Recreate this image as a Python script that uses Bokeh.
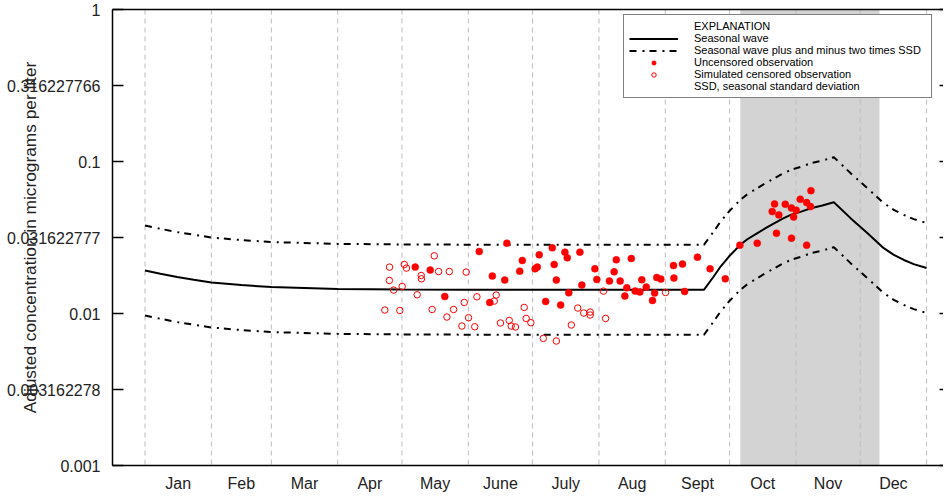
from bokeh.plotting import figure
from bokeh.models import (Range1d, FixedTicker, LinearAxis, LogAxis,
                          Legend, LegendItem, BoxAnnotation, Span)
from bokeh.embed import file_html
from bokeh.resources import INLINE

# ---------------- data (day of year / concentration) ----------------
month_start_day = [0, 31, 59, 90, 120, 151, 181, 212, 243, 273, 304, 334, 365]
month_mid_day = [15.5, 45, 74.5, 105, 135.5, 166, 196.5, 227.5, 258, 288.5, 319, 349.5]
month_labels = ["Jan", "Feb", "Mar", "Apr", "May", "June", "July", "Aug",
                "Sept", "Oct", "Nov", "Dec"]

y_tick_values = [0.001, 0.003162278, 0.01, 0.031622777, 0.1, 0.316227766, 1.0]
y_tick_labels = ["0.001", "0.003162278", "0.01", "0.031622777", "0.1",
                 "0.316227766", "1"]

band_start_day = 278
band_end_day = 343

wave_day = [0, 7.2, 15, 22.8, 31, 45, 59, 90, 120, 150, 200, 261, 265.6,
            268.8, 272.7, 278, 281.3, 286, 289.8, 294, 297.6, 301.5, 306.1,
            311, 316.3, 321.7, 329.5, 337.3, 345, 349.7, 354.4, 359, 365]
wave_conc = [0.0192, 0.01825, 0.01736, 0.01667, 0.0160, 0.01538, 0.01492,
             0.01452, 0.0144, 0.01435, 0.01432, 0.01432, 0.01752, 0.02037,
             0.0237, 0.0283, 0.0308, 0.0338, 0.0364, 0.0393, 0.0419, 0.0445,
             0.0466, 0.0493, 0.0513, 0.0540, 0.0424, 0.0338, 0.0269, 0.0243,
             0.0225, 0.02113, 0.0199]
upper_conc = [0.03796, 0.03608, 0.03432, 0.03296, 0.03163, 0.03041, 0.02950,
              0.02871, 0.02847, 0.02837, 0.02831, 0.02831, 0.03464, 0.04027,
              0.04685, 0.05595, 0.06089, 0.06682, 0.07196, 0.07770, 0.08284,
              0.08798, 0.09213, 0.09747, 0.1014, 0.1068, 0.08382, 0.06682,
              0.05318, 0.04804, 0.04448, 0.04177, 0.03934]
lower_conc = [0.009712, 0.009231, 0.008781, 0.008432, 0.008093, 0.007779,
              0.007547, 0.007345, 0.007284, 0.007258, 0.007243, 0.007243,
              0.008862, 0.010303, 0.011988, 0.014315, 0.015579, 0.017097,
              0.018412, 0.019879, 0.021194, 0.022509, 0.023571, 0.024937,
              0.025949, 0.027314, 0.021447, 0.017097, 0.013607, 0.012292,
              0.011381, 0.010688, 0.010066]

uncensored_day = [126.2, 133.2, 140.0, 156.1, 169.0, 176.2, 175.0, 162.2,
                  168.0, 161.0, 182.2, 183.2, 184.1, 190.2, 191.1, 192.1,
                  187.1, 194.1, 196.1, 197.2, 203.1, 204.0, 197.9, 210.1,
                  211.0, 216.9, 219.1, 220.1, 221.9, 225.0, 227.1, 228.9,
                  231.1, 224.1, 232.0, 234.1, 237.0, 238.0, 239.0, 240.9,
                  246.8, 247.0, 251.0, 252.0, 258.0, 263.9, 271.0, 277.8,
                  285.9, 294.0, 292.9, 296.0, 294.9, 299.0, 301.9, 302.9,
                  304.1, 301.9, 306.0, 309.0, 311.0, 310.8, 309.0]
uncensored_conc = [0.02019, 0.01930, 0.01294, 0.02557, 0.02903, 0.02231,
                   0.01900, 0.01762, 0.01659, 0.01182, 0.01968, 0.02019,
                   0.02432, 0.02704, 0.02101, 0.01659, 0.01200, 0.01137,
                   0.02533, 0.02324, 0.02533, 0.01538, 0.01369, 0.01968,
                   0.01674, 0.01634, 0.01880, 0.02254, 0.01634, 0.01476,
                   0.02299, 0.01404, 0.01384, 0.01302, 0.01667, 0.01492,
                   0.01218, 0.01363, 0.01725, 0.01684, 0.02069, 0.01709,
                   0.02113, 0.01396, 0.02349, 0.01968, 0.01691, 0.02816,
                   0.02903, 0.05260, 0.04682, 0.04454, 0.03377, 0.05236,
                   0.04950, 0.04321, 0.04782, 0.03131, 0.05648, 0.05365,
                   0.06432, 0.05049, 0.02816]

censored_day = [114.2, 114.1, 112.0, 116.1, 119.0, 120.1, 121.1, 122.1,
                127.1, 129.0, 129.1, 135.1, 134.1, 137.1, 142.1, 141.0,
                144.1, 149.1, 150.0, 151.1, 148.0, 154.0, 155.0, 163.1,
                164.0, 166.0, 170.1, 171.0, 173.0, 177.1, 178.0, 180.2,
                186.0, 192.1, 199.1, 202.1, 204.9, 207.9, 207.9, 214.1,
                215.1, 243.1]
censored_conc = [0.02019, 0.01649, 0.01054, 0.01426, 0.01047, 0.01506,
                 0.02101, 0.01989, 0.01328, 0.01778, 0.01691, 0.02395,
                 0.01063, 0.01889, 0.01889, 0.00948, 0.01063, 0.01182,
                 0.01872, 0.00938, 0.00827, 0.00818, 0.01288, 0.01207,
                 0.01322, 0.00866, 0.00900, 0.00827, 0.00815, 0.01096,
                 0.00928, 0.00870, 0.00686, 0.00659, 0.00840, 0.01086,
                 0.01007, 0.01022, 0.00977, 0.01404, 0.00928, 0.01375]

FONT = "Liberation Sans"
TEXT = "#222222"

p = figure(width=943, height=494,
           x_range=Range1d(-15.18, 372.9), y_range=Range1d(0.001, 1.0),
           y_axis_type="log", x_axis_location=None, y_axis_location=None,
           output_backend="svg", toolbar_location=None,
           min_border_left=112, min_border_right=0, min_border_top=9,
           min_border_bottom=28)
p.outline_line_color = None
p.xgrid.visible = False
p.ygrid.visible = False
p.background_fill_color = "white"
p.border_fill_color = "white"

# left axis (with overlapping axis title, as in the original)
yaxis = LogAxis(ticker=FixedTicker(ticks=y_tick_values, minor_ticks=[]),
                major_label_overrides=dict(zip(y_tick_values, y_tick_labels)),
                major_tick_in=11, major_tick_out=0,
                minor_tick_in=0, minor_tick_out=0,
                major_label_standoff=12,
                major_label_text_font=FONT, major_label_text_font_size="16px",
                major_label_text_color=TEXT,
                axis_label="Adjusted concentration in micrograms per liter",
                axis_label_standoff=-36,
                axis_label_text_font=FONT, axis_label_text_font_size="17.3px",
                axis_label_text_font_style="normal",
                axis_label_text_color=TEXT,
                axis_line_color="black", axis_line_width=1.5,
                major_tick_line_color="black", major_tick_line_width=1.5)
p.add_layout(yaxis, "left")

# right axis (ticks only)
raxis = LogAxis(ticker=FixedTicker(ticks=y_tick_values, minor_ticks=[]),
                major_label_overrides={v: "" for v in y_tick_values},
                major_tick_in=4, major_tick_out=0,
                minor_tick_in=0, minor_tick_out=0,
                major_label_standoff=0, major_label_text_font_size="0px",
                axis_line_color=None,
                major_tick_line_color="black", major_tick_line_width=1.5)
p.add_layout(raxis, "right")

# bottom axis (month names)
xaxis = LinearAxis(ticker=FixedTicker(ticks=month_mid_day, minor_ticks=[]),
                   major_label_overrides=dict(zip(month_mid_day, month_labels)),
                   major_tick_in=0, major_tick_out=0,
                   minor_tick_in=0, minor_tick_out=0,
                   major_tick_line_color=None,
                   major_label_standoff=9,
                   major_label_text_font=FONT, major_label_text_font_size="16px",
                   major_label_text_color=TEXT,
                   axis_line_color="black", axis_line_width=1.5)
p.add_layout(xaxis, "below")

# top frame line
taxis = LinearAxis(ticker=FixedTicker(ticks=[], minor_ticks=[]),
                   major_tick_in=0, major_tick_out=0,
                   minor_tick_in=0, minor_tick_out=0,
                   major_label_standoff=0, major_label_text_font_size="0px",
                   axis_line_color="black", axis_line_width=1.5)
p.add_layout(taxis, "above")

# shaded band
band = BoxAnnotation(left=band_start_day, right=band_end_day,
                     fill_color="#d3d3d3", fill_alpha=1.0, line_color=None,
                     level="underlay")
p.add_layout(band)

# month boundary dashed lines
for d in month_start_day:
    p.add_layout(Span(location=d, dimension="height", line_color="#bdbdbd",
                      line_width=1, line_dash="5 4", level="underlay"))

dash_dot = "7 6 2 5"
wave_r = p.line(wave_day, wave_conc, line_color="black", line_width=2)
upper_r = p.line(wave_day, upper_conc, line_color="black", line_width=2,
                 line_dash=dash_dot)
lower_r = p.line(wave_day, lower_conc, line_color="black", line_width=2,
                 line_dash=dash_dot)
cens_r = p.scatter(censored_day, censored_conc, marker="circle", size=6.5,
                   fill_color=None, line_color="red", line_width=1)
unc_r = p.scatter(uncensored_day, uncensored_conc, marker="circle", size=7,
                  fill_color="red", line_color="red", line_width=0.5)
blank_r = p.line([], [], line_alpha=0)

legend = Legend(items=[
    LegendItem(label="EXPLANATION", renderers=[blank_r]),
    LegendItem(label="Seasonal wave", renderers=[wave_r]),
    LegendItem(label="Seasonal wave plus and minus two times SSD", renderers=[upper_r]),
    LegendItem(label="Uncensored observation", renderers=[unc_r]),
    LegendItem(label="Simulated censored observation", renderers=[cens_r]),
    LegendItem(label="SSD, seasonal standard deviation", renderers=[blank_r]),
], location=(511, 367))
legend.label_text_font = FONT
legend.label_text_font_size = "11px"
legend.label_text_line_height = 1.0
legend.label_text_color = "black"
legend.glyph_width = 49
legend.glyph_height = 11
legend.label_height = 11
legend.label_standoff = 16
legend.label_width = 232
legend.padding = 5
legend.spacing = 0
legend.margin = 0
legend.border_line_color = "black"
legend.border_line_width = 1.5
legend.background_fill_color = "white"
legend.background_fill_alpha = 1.0
p.add_layout(legend)

open("out.html", "w").write(file_html(p, INLINE))
